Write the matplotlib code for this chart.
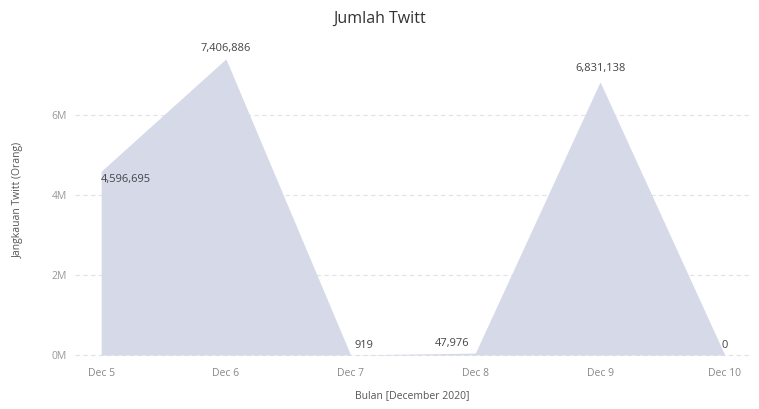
import numpy as np
import matplotlib.pyplot as plt

days = ["Dec 5", "Dec 6", "Dec 7", "Dec 8", "Dec 9", "Dec 10"]
reach = [4596695, 7406886, 919, 47976, 6831138, 0]
y_ticks = [0, 2000000, 4000000, 6000000]
y_tick_labels = ["0M", "2M", "4M", "6M"]

plt.rcParams['font.family'] = ['Open Sans', 'DejaVu Sans']

fig = plt.figure(figsize=(7.59, 4.09), dpi=100)
ax = fig.add_axes([0.0988, 0.1198, 0.889, 0.782])

x = np.arange(len(days))
ax.fill_between(x, reach, 0, color="#d5d9e8", linewidth=0)

ax.set_xlim(-0.21, 5.2)
ax.set_ylim(-125000, 7875000)
ax.set_xticks(x)
ax.set_xticklabels(days, fontsize=7.5, color="#888888")
ax.set_yticks(y_ticks)
ax.set_yticklabels(y_tick_labels, fontsize=7.5, color="#999999")
ax.tick_params(length=0, pad=6)
ax.yaxis.grid(True, color="#e2e2e2", linestyle=(0, (4, 3)), linewidth=0.8)
ax.set_axisbelow(True)
for s in ax.spines.values():
    s.set_visible(False)

# data labels
offsets = [(0.0, -0.35e6, "left"), (0, 0.12e6, "center"), (0.03, 0.1e6, "left"),
           (-0.05, 0.1e6, "right"), (0, 0.2e6, "center"), (0, 0.1e6, "center")]
for i, v in enumerate(reach):
    dx, dy, ha = offsets[i]
    ax.text(x[i] + dx, v + dy, f"{v:,}", ha=ha, va="bottom", fontsize=8, color="#444444")

fig.text(0.5, 0.955, "Jumlah Twitt", ha="center", va="center", fontsize=11.5,
         color="#333333")
ax.set_xlabel("Bulan [December 2020]", fontsize=7.5, color="#555555", labelpad=8)
ax.set_ylabel("Jangkauan Twitt (Orang)", fontsize=7.5, color="#555555", labelpad=20)

fig.savefig("out.png", dpi=100)
